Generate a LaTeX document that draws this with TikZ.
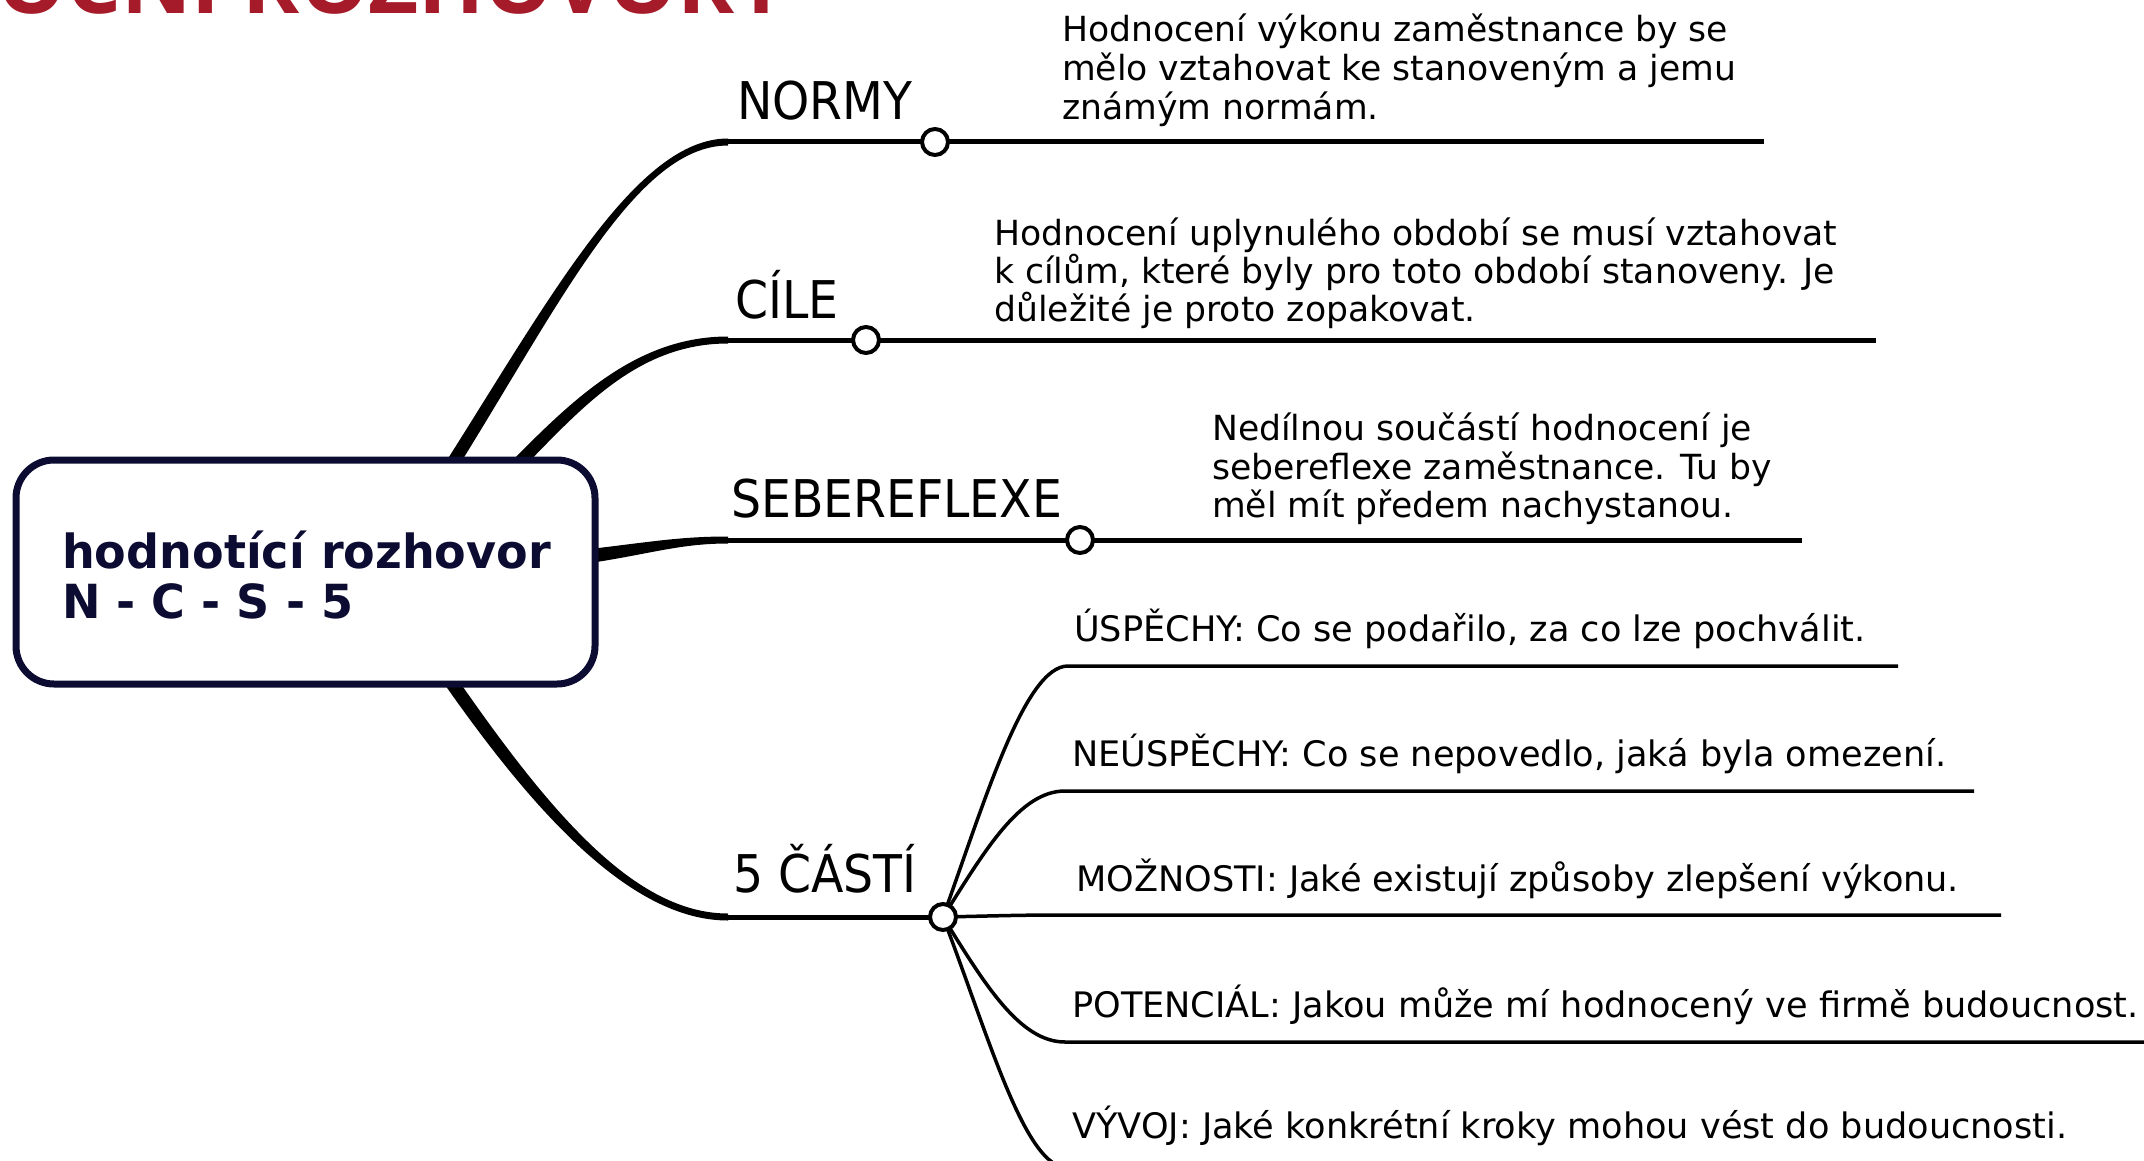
\documentclass[tikz,border=0pt]{standalone}
\usepackage{fontspec}
\setmainfont{DejaVu Sans}
\newfontfamily\lblfont[FakeStretch=0.91]{DejaVu Sans}
\newfontfamily\boxfont[FakeStretch=0.98]{DejaVu Sans}
\newfontfamily\titlefont{Open Sans}
\usetikzlibrary{calc}
\definecolor{navy}{RGB}{12,12,50}
\definecolor{titlered}{RGB}{165,27,41}
\begin{document}
\begin{tikzpicture}[x=1pt,y=-1pt,
  body/.style={anchor=base west,inner sep=0pt,font=\fontsize{34.6}{39}\selectfont},
  part/.style={anchor=base west,inner sep=0pt,font=\fontsize{35.1}{39}\selectfont},
  lbl/.style={anchor=base west,inner sep=0pt,font=\lblfont\fontsize{52}{60}\selectfont},
  boxtxt/.style={anchor=base west,inner sep=0pt,text=navy,font=\boxfont\bfseries\fontsize{47}{50}\selectfont},
  hline/.style={line width=5pt},
  subline/.style={line width=3.5pt},
  knob/.style={circle,draw,line width=4pt,fill=white,minimum size=26pt,inner sep=0pt},
  rootbox/.style={draw=navy,line width=7pt,rounded corners=38pt,fill=white,minimum width=579pt,minimum height=224pt,inner sep=0pt}]
\useasboundingbox (0,0) rectangle (2144,1161);
\fill[white] (0,0) rectangle (2144,1161);

% title (cut by the top edge)
\node[anchor=base west,inner sep=0pt,text=titlered,font=\titlefont\bfseries\fontsize{86.6}{90}\selectfont] (title) at (-60,14) {ROČNÍ ROZHOVORY};

% junction points and line ends
\coordinate (kN) at (935,142);
\coordinate (kC) at (866,340);
\coordinate (kS) at (1080,540);
\coordinate (k5) at (943,917);
\coordinate (eN) at (1764,142);
\coordinate (eC) at (1876,340);
\coordinate (eS) at (1802,540);
\coordinate (e1) at (1898,666);
\coordinate (e2) at (1974,791);
\coordinate (e3) at (2001,915);
\coordinate (e4) at (2160,1042);
\coordinate (e5) at (2160,1168);

% main branches (tapered)
\fill (442,468) .. controls (550,298) and (636,138.5) .. (728,138.5) -- (728,145.5) .. controls (636,145.5) and (560,304) .. (453,475) -- cycle;
\draw[hline] (726,142) -- (kN) -- (eN);
\fill (507,466) .. controls (572,400) and (636,336.5) .. (728,336.5) -- (728,343.5) .. controls (636,343.5) and (580,410) .. (516,475) -- cycle;
\draw[hline] (726,340) -- (kC) -- (eC);
\fill (590,549) .. controls (650,542) and (680,536.5) .. (728,536.5) -- (728,543.5) .. controls (680,543.5) and (650,554) .. (590,563) -- cycle;
\draw[hline] (726,540) -- (kS) -- (eS);
\fill (454,674) .. controls (552,816) and (636,913.5) .. (728,913.5) -- (728,920.5) .. controls (636,920.5) and (542,824) .. (443,682) -- cycle;
\draw[hline] (726,917) -- (k5);

% sub-branches
\draw[subline] (k5) .. controls (985,800) and (1025,666) .. (1068,666) -- (e1);
\draw[subline] (k5) .. controls (985,850) and (1020,791) .. (1065,791) -- (e2);
\draw[subline] (k5) .. controls (990,916) and (1020,915) .. (1060,915) -- (e3);
\draw[subline] (k5) .. controls (985,985) and (1020,1042) .. (1065,1042) -- (e4);
\draw[subline] (k5) .. controls (990,1040) and (1025,1168) .. (1068,1168) -- (e5);

% knobs
\node[knob] (cN) at (kN) {};
\node[knob] (cC) at (kC) {};
\node[knob] (cS) at (kS) {};
\node[knob] (c5) at (k5) {};

% central topic
\node[rootbox] (root) at (305.5,572) {};
\node[boxtxt] (rt1) at (62,568) {hodnotící rozhovor};
\node[boxtxt] (rt2) at (62,618) {N - C - S - 5};

% labels
\node[lbl] (lN) at (737,120) {NORMY};
\node[lbl] (lC) at (735,318) {CÍLE};
\node[lbl] (lS) at (731,517) {SEBEREFLEXE};
\node[lbl] (l5) at (733,892) {5 ČÁSTÍ};

% notes
\node[body] (n1a) at (1062,42) {Hodnocení výkonu zaměstnance by se};
\node[body] (n1b) at (1062,81) {mělo vztahovat ke stanoveným a jemu};
\node[body] (n1c) at (1062,120) {známým normám.};
\node[body] (n2a) at (994,245) {Hodnocení uplynulého období se musí vztahovat};
\node[body] (n2b) at (994,283) {k cílům, které byly pro toto období stanoveny. Je};
\node[body] (n2c) at (994,321) {důležité je proto zopakovat.};
\node[body] (n3a) at (1212,440) {Nedílnou součástí hodnocení je};
\node[body] (n3b) at (1212,479) {sebereflexe zaměstnance. Tu by};
\node[body] (n3c) at (1212,517) {měl mít předem nachystanou.};

% five parts
\node[part] (p1) at (1074,641) {ÚSPĚCHY: Co se podařilo, za co lze pochválit.};
\node[part] (p2) at (1072,766) {NEÚSPĚCHY: Co se nepovedlo, jaká byla omezení.};
\node[part] (p3) at (1076,891) {MOŽNOSTI: Jaké existují způsoby zlepšení výkonu.};
\node[part] (p4) at (1072,1017) {POTENCIÁL: Jakou může mí hodnocený ve firmě budoucnost.};
\node[part] (p5) at (1072,1138) {VÝVOJ: Jaké konkrétní kroky mohou vést do budoucnosti.};
\end{tikzpicture}
\end{document}
